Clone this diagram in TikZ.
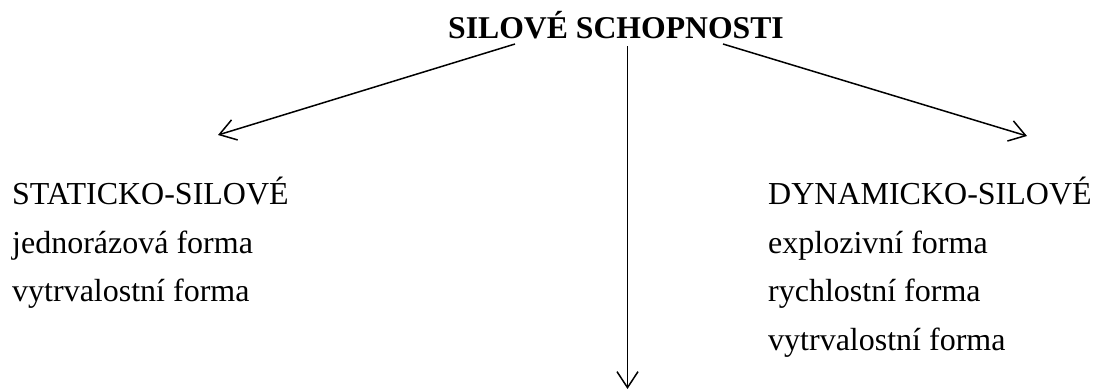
\documentclass[tikz,border=0pt]{standalone}
\usepackage{fontspec}
\setmainfont{Liberation Serif}
\usetikzlibrary{arrows.meta}
\begin{document}
\begin{tikzpicture}[x=1bp,y=-1bp,
  txt/.style={anchor=base west,inner sep=0pt,font=\fontsize{32bp}{38bp}\selectfont},
  ttl/.style={anchor=base west,inner sep=0pt,font=\fontsize{31.7bp}{38bp}\selectfont\bfseries},
  arr/.style={line width=1.5bp,-{Straight Barb[length=16bp,width=21bp,line width=1.5bp]}}]
\useasboundingbox (0,0) rectangle (1095,390);
\node[ttl] (title) at (448,38) {SILOVÉ SCHOPNOSTI};
\coordinate (sL) at (515,44);
\coordinate (sC) at (627.5,46);
\coordinate (sR) at (723,44);
\coordinate (tL) at (218,135);
\coordinate (tC) at (627.5,389);
\coordinate (tR) at (1027,136);
\draw[arr] (sL) -- (tL);
\draw[arr] (sC) -- (tC);
\draw[arr] (sR) -- (tR);
\node[txt] (l1) at (12,204) {STATICKO-SILOVÉ};
\node[txt] (l2) at (12,253) {jednorázová forma};
\node[txt] (l3) at (12,301.5) {vytrvalostní forma};
\node[txt] (r1) at (768,204) {DYNAMICKO-SILOVÉ};
\node[txt] (r2) at (768,253) {explozivní forma};
\node[txt] (r3) at (768,301.5) {rychlostní forma};
\node[txt] (r4) at (768,350) {vytrvalostní forma};
\end{tikzpicture}
\end{document}
